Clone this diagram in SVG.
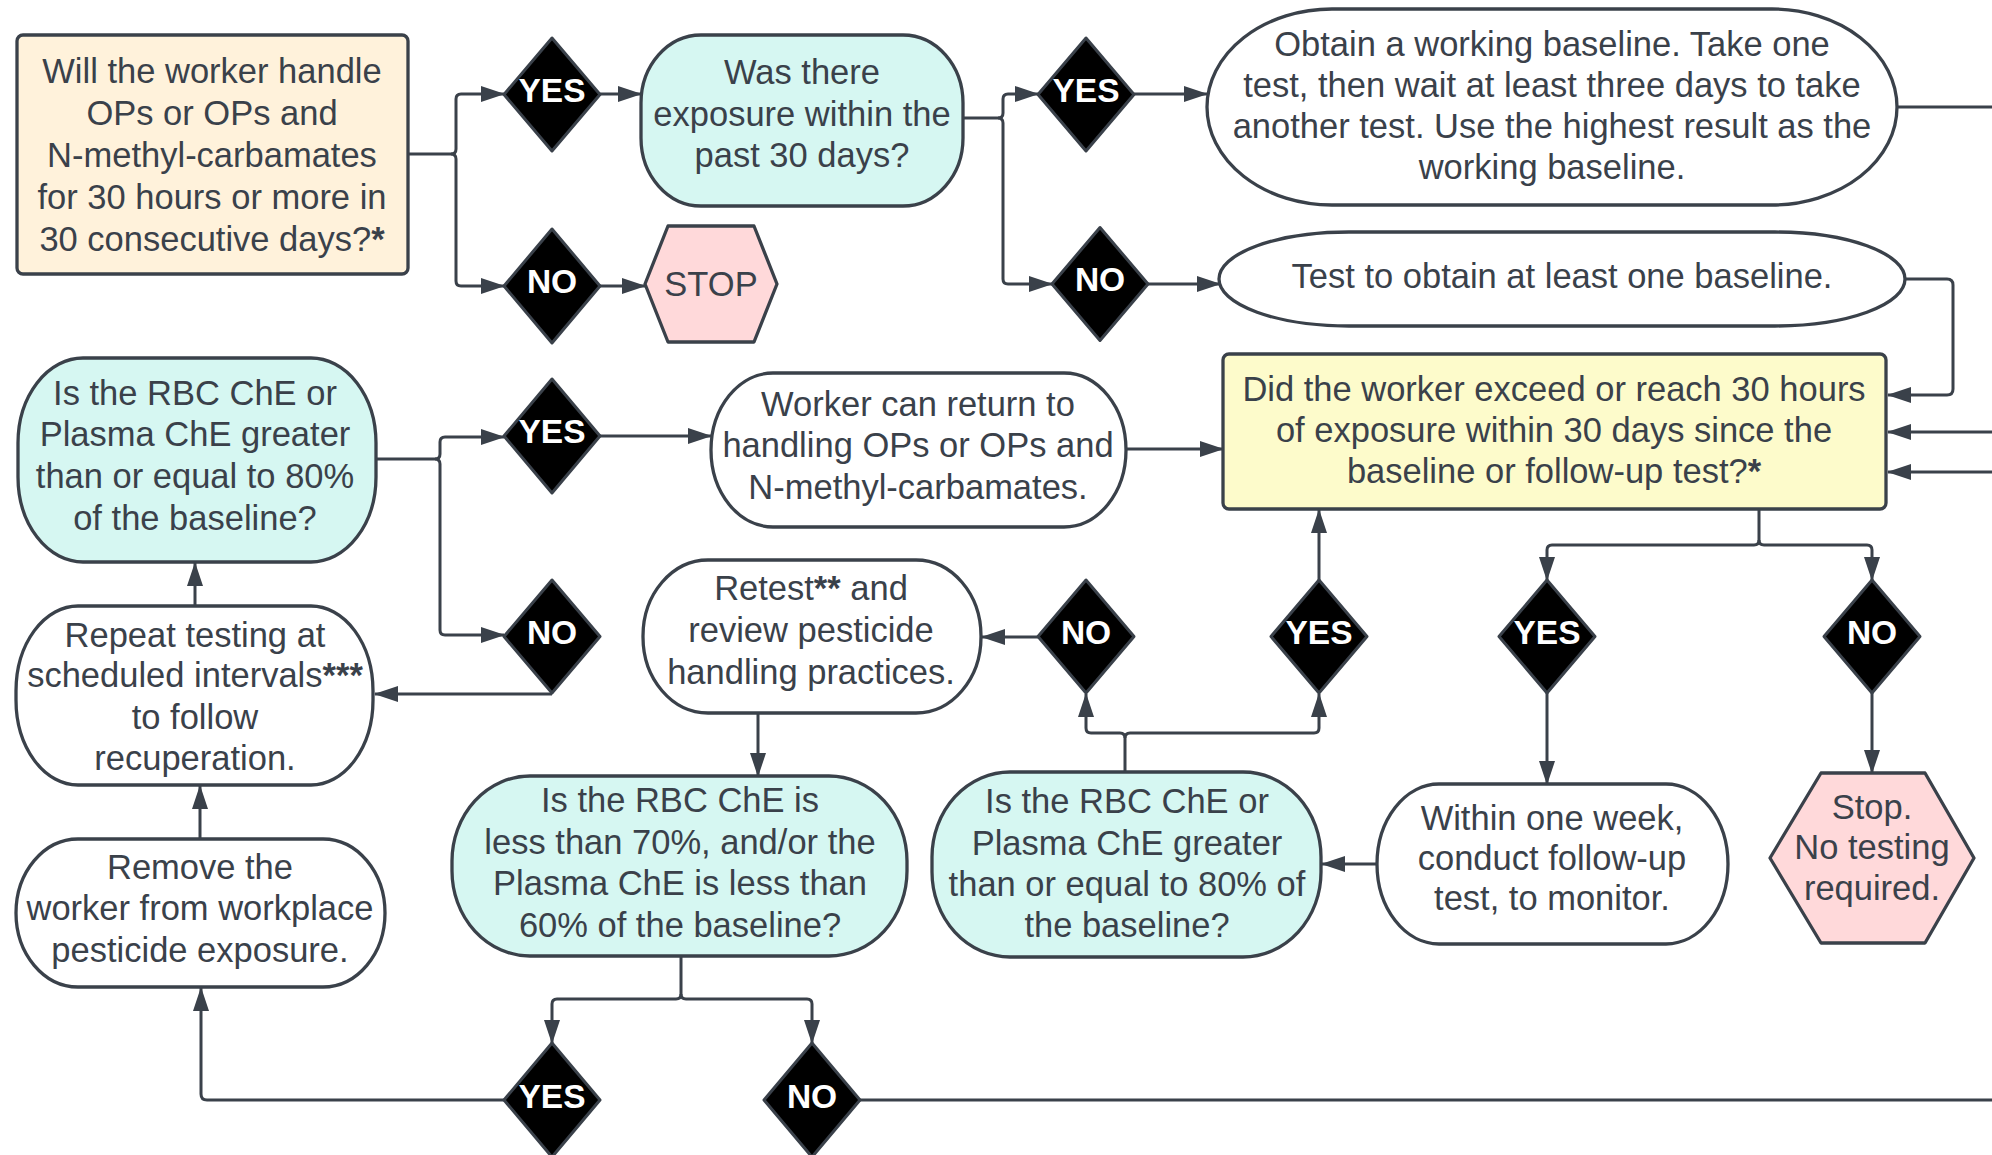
<svg xmlns="http://www.w3.org/2000/svg" width="1992" height="1155" viewBox="0 0 1992 1155">
<defs>
<marker id="a" markerUnits="userSpaceOnUse" viewBox="0 0 24 16" refX="23" refY="8" markerWidth="24" markerHeight="16" orient="auto">
<path d="M0,0 L24,8 L0,16 z" fill="#3A414A"/>
</marker>
<style>
.n{stroke:#3A414A;stroke-width:3.3;stroke-linejoin:round}
.cream{fill:#FFF2DB}
.cyan{fill:#D6F7F2}
.yel{fill:#FDFBCB}
.pink{fill:#FFD9DA}
.wh{fill:#FFFFFF}
.dia{fill:#000000;stroke:#3A414A;stroke-width:3;stroke-linejoin:round}
.t{font-family:"Liberation Sans",Arial,sans-serif;font-size:34.5px;fill:#3A414A;text-anchor:middle}
.d{font-family:"Liberation Sans",Arial,sans-serif;font-size:33.5px;font-weight:bold;fill:#FFFFFF;text-anchor:middle}
.b{font-weight:bold}
.c{fill:none;stroke:#3A414A;stroke-width:3;stroke-linejoin:round}
</style>
</defs>
<rect width="1992" height="1155" fill="#FFFFFF"/>

<g id="connectors">
<path class="c" d="M408,154 H451 Q456,154 456,149 V99 Q456,94 461,94 H504" marker-end="url(#a)"/>
<path class="c" d="M451,154 Q456,154 456,159 V281 Q456,286 461,286 H504" marker-end="url(#a)"/>
<path class="c" d="M600,94 H641" marker-end="url(#a)"/>
<path class="c" d="M600,286 H645" marker-end="url(#a)"/>
<path class="c" d="M963,118 H998 Q1003,118 1003,113 V99 Q1003,94 1008,94 H1038" marker-end="url(#a)"/>
<path class="c" d="M998,118 Q1003,118 1003,123 V279 Q1003,284 1008,284 H1052" marker-end="url(#a)"/>
<path class="c" d="M1134,94 H1207" marker-end="url(#a)"/>
<path class="c" d="M1148,284 H1220" marker-end="url(#a)"/>
<path class="c" d="M1897,107 H1992"/>
<path class="c" d="M1905,279 H1947 Q1953,279 1953,285 V389 Q1953,395 1947,395 H1888" marker-end="url(#a)"/>
<path class="c" d="M1992,432 H1888" marker-end="url(#a)"/>
<path class="c" d="M1992,472 H1888" marker-end="url(#a)"/>
<path class="c" d="M1759,509 V540 Q1759,545 1754,545 H1552 Q1547,545 1547,550 V580" marker-end="url(#a)"/>
<path class="c" d="M1759,540 Q1759,545 1764,545 H1867 Q1872,545 1872,550 V580" marker-end="url(#a)"/>
<path class="c" d="M1319,580 V510" marker-end="url(#a)"/>
<path class="c" d="M1038,637 H982" marker-end="url(#a)"/>
<path class="c" d="M1125,772 V738 Q1125,733 1120,733 H1091 Q1086,733 1086,728 V694" marker-end="url(#a)"/>
<path class="c" d="M1125,738 Q1125,733 1130,733 H1314 Q1319,733 1319,728 V694" marker-end="url(#a)"/>
<path class="c" d="M1547,693 V784" marker-end="url(#a)"/>
<path class="c" d="M1872,693 V773" marker-end="url(#a)"/>
<path class="c" d="M1377,864 H1322" marker-end="url(#a)"/>
<path class="c" d="M860,1100 H1992"/>
<path class="c" d="M681,956 V994 Q681,999 676,999 H557 Q552,999 552,1004 V1043" marker-end="url(#a)"/>
<path class="c" d="M681,994 Q681,999 686,999 H807 Q812,999 812,1004 V1043" marker-end="url(#a)"/>
<path class="c" d="M504,1100 H207 Q201,1100 201,1094 V988" marker-end="url(#a)"/>
<path class="c" d="M200,839 V786" marker-end="url(#a)"/>
<path class="c" d="M195,606 V563" marker-end="url(#a)"/>
<path class="c" d="M376,459 H435 Q440,459 440,454 V442 Q440,437 445,437 H504" marker-end="url(#a)"/>
<path class="c" d="M435,459 Q440,459 440,464 V630 Q440,635 445,635 H504" marker-end="url(#a)"/>
<path class="c" d="M600,436 H711" marker-end="url(#a)"/>
<path class="c" d="M552,694 H375" marker-end="url(#a)"/>
<path class="c" d="M1126,449 H1223" marker-end="url(#a)"/>
<path class="c" d="M758,713 V776" marker-end="url(#a)"/>
</g>

<g id="start">
<rect class="n cream" x="17" y="35" width="391" height="239" rx="6"/>
<text class="t" x="212" y="83">Will the worker handle</text>
<text class="t" x="212" y="125">OPs or OPs and</text>
<text class="t" x="212" y="167">N-methyl-carbamates</text>
<text class="t" x="212" y="209">for 30 hours or more in</text>
<text class="t" x="212" y="251">30 consecutive days?<tspan class="b">*</tspan></text>
</g>

<g id="yes1"><polygon class="dia" points="552,38 600,94.5 552,151 504,94.5"/><text class="d" x="552" y="102">YES</text></g>
<g id="no1"><polygon class="dia" points="552,229 600,286 552,343 504,286"/><text class="d" x="552" y="293">NO</text></g>

<g id="stop1">
<polygon class="n pink" points="645,284 668,226 754,226 777,284 754,342 668,342"/>
<text class="t" x="711" y="296">STOP</text>
</g>

<g id="exposure30">
<rect class="n cyan" x="641" y="35" width="322" height="171" rx="60" ry="68"/>
<text class="t" x="802" y="84">Was there</text>
<text class="t" x="802" y="126">exposure within the</text>
<text class="t" x="802" y="167">past 30 days?</text>
</g>

<g id="yes2"><polygon class="dia" points="1086,38 1134,94.5 1086,151 1038,94.5"/><text class="d" x="1086" y="102">YES</text></g>
<g id="no2"><polygon class="dia" points="1100,227.5 1148,284 1100,340.5 1052,284"/><text class="d" x="1100" y="291">NO</text></g>

<g id="working-baseline">
<rect class="n wh" x="1207" y="9" width="690" height="196" rx="125" ry="98"/>
<text class="t" x="1552" y="56">Obtain a working baseline. Take one</text>
<text class="t" x="1552" y="97">test, then wait at least three days to take</text>
<text class="t" x="1552" y="138">another test. Use the highest result as the</text>
<text class="t" x="1552" y="179">working baseline.</text>
</g>

<g id="one-baseline">
<rect class="n wh" x="1219" y="232" width="686" height="94" rx="130" ry="47"/>
<text class="t" x="1562" y="288">Test to obtain at least one baseline.</text>
</g>

<g id="exceed30">
<rect class="n yel" x="1223" y="354" width="663" height="155" rx="6"/>
<text class="t" x="1554" y="401">Did the worker exceed or reach 30 hours</text>
<text class="t" x="1554" y="442">of exposure within 30 days since the</text>
<text class="t" x="1554" y="483">baseline or follow-up test?<tspan class="b">*</tspan></text>
</g>

<g id="cyan1">
<rect class="n cyan" x="18" y="358" width="358" height="204" rx="65" ry="85"/>
<text class="t" x="195" y="405">Is the RBC ChE or</text>
<text class="t" x="195" y="446">Plasma ChE greater</text>
<text class="t" x="195" y="488">than or equal to 80%</text>
<text class="t" x="195" y="530">of the baseline?</text>
</g>

<g id="yes6"><polygon class="dia" points="552,379 600,436 552,493 504,436"/><text class="d" x="552" y="443">YES</text></g>
<g id="no6"><polygon class="dia" points="552,580 600,636.5 552,693 504,636.5"/><text class="d" x="552" y="644">NO</text></g>

<g id="return">
<rect class="n wh" x="711" y="373" width="415" height="154" rx="62" ry="77"/>
<text class="t" x="918" y="416">Worker can return to</text>
<text class="t" x="918" y="457">handling OPs or OPs and</text>
<text class="t" x="918" y="499">N-methyl-carbamates.</text>
</g>

<g id="retest">
<rect class="n wh" x="643" y="560" width="338" height="153" rx="65" ry="76"/>
<text class="t" x="811" y="600">Retest<tspan class="b">**</tspan> and</text>
<text class="t" x="811" y="642">review pesticide</text>
<text class="t" x="811" y="684">handling practices.</text>
</g>

<g id="no3"><polygon class="dia" points="1086,580 1134,636.5 1086,693 1038,636.5"/><text class="d" x="1086" y="644">NO</text></g>
<g id="yes3"><polygon class="dia" points="1319,580 1367,636.5 1319,693 1271,636.5"/><text class="d" x="1319" y="644">YES</text></g>
<g id="yes4"><polygon class="dia" points="1547,580 1595,636.5 1547,693 1499,636.5"/><text class="d" x="1547" y="644">YES</text></g>
<g id="no4"><polygon class="dia" points="1872,580 1920,636.5 1872,693 1824,636.5"/><text class="d" x="1872" y="644">NO</text></g>

<g id="repeat">
<rect class="n wh" x="16" y="606" width="357" height="179" rx="62" ry="85"/>
<text class="t" x="195" y="647">Repeat testing at</text>
<text class="t" x="195" y="687">scheduled intervals<tspan class="b">***</tspan></text>
<text class="t" x="195" y="729">to follow</text>
<text class="t" x="195" y="770">recuperation.</text>
</g>

<g id="cyan3">
<rect class="n cyan" x="452" y="776" width="455" height="180" rx="78" ry="85"/>
<text class="t" x="680" y="812">Is the RBC ChE is</text>
<text class="t" x="680" y="854">less than 70%, and/or the</text>
<text class="t" x="680" y="895">Plasma ChE is less than</text>
<text class="t" x="680" y="937">60% of the baseline?</text>
</g>

<g id="cyan2">
<rect class="n cyan" x="932" y="772" width="389" height="185" rx="78" ry="85"/>
<text class="t" x="1127" y="813">Is the RBC ChE or</text>
<text class="t" x="1127" y="855">Plasma ChE greater</text>
<text class="t" x="1127" y="896">than or equal to 80% of</text>
<text class="t" x="1127" y="937">the baseline?</text>
</g>

<g id="followup">
<rect class="n wh" x="1377" y="784" width="351" height="160" rx="62" ry="80"/>
<text class="t" x="1552" y="830">Within one week,</text>
<text class="t" x="1552" y="870">conduct follow-up</text>
<text class="t" x="1552" y="910">test, to monitor.</text>
</g>

<g id="stop2">
<polygon class="n pink" points="1770,858 1821,773 1925,773 1974,858 1925,943 1821,943"/>
<text class="t" x="1872" y="819">Stop.</text>
<text class="t" x="1872" y="859">No testing</text>
<text class="t" x="1872" y="900">required.</text>
</g>

<g id="remove">
<rect class="n wh" x="16" y="839" width="369" height="148" rx="62" ry="74"/>
<text class="t" x="200" y="879">Remove the</text>
<text class="t" x="200" y="920">worker from workplace</text>
<text class="t" x="200" y="962">pesticide exposure.</text>
</g>

<g id="yes5"><polygon class="dia" points="552,1043 600,1100 552,1157 504,1100"/><text class="d" x="552" y="1108">YES</text></g>
<g id="no5"><polygon class="dia" points="812,1043 860,1100 812,1157 764,1100"/><text class="d" x="812" y="1108">NO</text></g>
</svg>
